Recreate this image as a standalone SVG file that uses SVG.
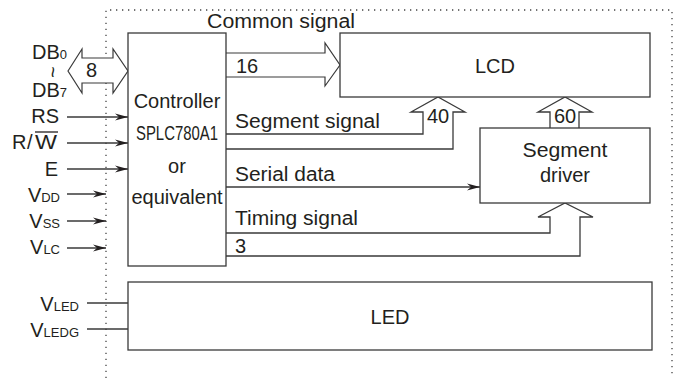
<svg xmlns="http://www.w3.org/2000/svg" width="682" height="378" viewBox="0 0 682 378">
<style>
text{font-family:"Liberation Sans",Arial,sans-serif;fill:#231f20;font-size:20px}
.box{fill:#fff;stroke:#3a3a3a;stroke-width:1.3}
.ln{fill:none;stroke:#3a3a3a;stroke-width:1.3}
.bus{fill:#fff;stroke:#3a3a3a;stroke-width:1.2}
.dot{fill:none;stroke:#444;stroke-width:1.3;stroke-dasharray:1.3 4.7}
.sub{font-size:13px}
.mid{text-anchor:middle}
.end{text-anchor:end}
</style>
<defs>
<marker id="ah" markerUnits="userSpaceOnUse" markerWidth="16" markerHeight="10" refX="13" refY="4" orient="auto" viewBox="0 0 16 10">
<path d="M0,0.5 L13,4 L0,7.5 L4,4 z" fill="#231f20"/>
</marker>
</defs>
<rect width="682" height="378" fill="#fff"/>
<path class="dot" d="M106,378 V10 H672 V378"/>

<g id="connectors">
<polygon class="bus" points="68,71 82,49 82,58 113,58 113,49 128,71 113,93 113,83 82,83 82,93"/>
<polyline class="bus" points="226,53 325,53 325,43 340,65 325,86 325,77 226,77"/>
<polyline class="ln" points="226,134 423,134 423,112 411,112 438,97 465,112 453,112 453,149 226,149"/>
<polyline class="ln" points="550,128 550,112 538,112 565,97 592,112 579,112 579,128"/>
<polyline class="ln" points="226,233 550,233 550,217 538,217 565,203 593,217 580,217 580,256 226,256"/>
<line class="ln" x1="226" y1="187" x2="480" y2="187" marker-end="url(#ah)"/>
<line class="ln" x1="67" y1="117" x2="128" y2="117" marker-end="url(#ah)"/>
<line class="ln" x1="67" y1="143" x2="128" y2="143" marker-end="url(#ah)"/>
<line class="ln" x1="67" y1="169" x2="128" y2="169" marker-end="url(#ah)"/>
<line class="ln" x1="67" y1="194" x2="106" y2="194" marker-end="url(#ah)"/>
<line class="ln" x1="67" y1="221" x2="106" y2="221" marker-end="url(#ah)"/>
<line class="ln" x1="67" y1="248" x2="106" y2="248" marker-end="url(#ah)"/>
<line class="ln" x1="87" y1="303" x2="128" y2="303"/>
<line class="ln" x1="87" y1="329" x2="128" y2="329"/>
<text x="91.5" y="77" class="mid" font-size="21">8</text>
<text x="236" y="73">16</text>
<text x="438" y="123" class="mid">40</text>
<text x="565" y="123" class="mid">60</text>
<text x="235" y="253">3</text>
<text x="207" y="28" textLength="148" lengthAdjust="spacingAndGlyphs">Common signal</text>
<text x="235" y="128" textLength="145" lengthAdjust="spacingAndGlyphs">Segment signal</text>
<text x="235" y="181" textLength="100" lengthAdjust="spacingAndGlyphs">Serial data</text>
<text x="235" y="225" textLength="123" lengthAdjust="spacingAndGlyphs">Timing signal</text>
</g>

<g id="controller">
<rect class="box" x="128" y="33" width="98" height="233"/>
<text x="177" y="108" class="mid" font-size="19.5">Controller</text>
<text x="177" y="140" class="mid" font-size="21" textLength="82" lengthAdjust="spacingAndGlyphs">SPLC780A1</text>
<text x="177" y="173" class="mid" font-size="19.5">or</text>
<text x="177" y="204" class="mid" font-size="19.5">equivalent</text>
</g>

<g id="lcd">
<rect class="box" x="340" y="33" width="310" height="64"/>
<text x="495" y="73" class="mid" font-size="21">LCD</text>
</g>

<g id="segment-driver">
<rect class="box" x="480" y="128" width="170" height="75"/>
<text x="565" y="157" class="mid" textLength="85" lengthAdjust="spacingAndGlyphs">Segment</text>
<text x="565" y="182" class="mid">driver</text>
</g>

<g id="led">
<rect class="box" x="128" y="282" width="524" height="68"/>
<text x="390" y="324" class="mid" font-size="21">LED</text>
</g>

<g id="pins">
<text x="32" y="59" font-size="20.5">DB<tspan class="sub">0</tspan></text>
<text x="46" y="72" font-size="17" transform="rotate(90 46 72)" class="mid">~</text>
<text x="32" y="97" font-size="20.5">DB<tspan class="sub">7</tspan></text>
<text x="59" y="123" class="end" font-size="20.5">RS</text>
<text x="12" y="149" font-size="20.5">R</text>
<text x="27" y="149" font-size="20.5">/</text>
<text x="35" y="149" font-size="20.5" textLength="22" lengthAdjust="spacingAndGlyphs">W</text>
<line x1="35" y1="132" x2="58" y2="132" stroke="#231f20" stroke-width="1.3"/>
<text x="58" y="176" class="end" font-size="20.5">E</text>
<text x="60" y="202" class="end">V<tspan class="sub">DD</tspan></text>
<text x="60" y="228" class="end">V<tspan class="sub">SS</tspan></text>
<text x="60" y="254" class="end">V<tspan class="sub">LC</tspan></text>
<text x="79" y="311" class="end">V<tspan class="sub">LED</tspan></text>
<text x="79" y="337" class="end">V<tspan class="sub">LEDG</tspan></text>
</g>
</svg>
